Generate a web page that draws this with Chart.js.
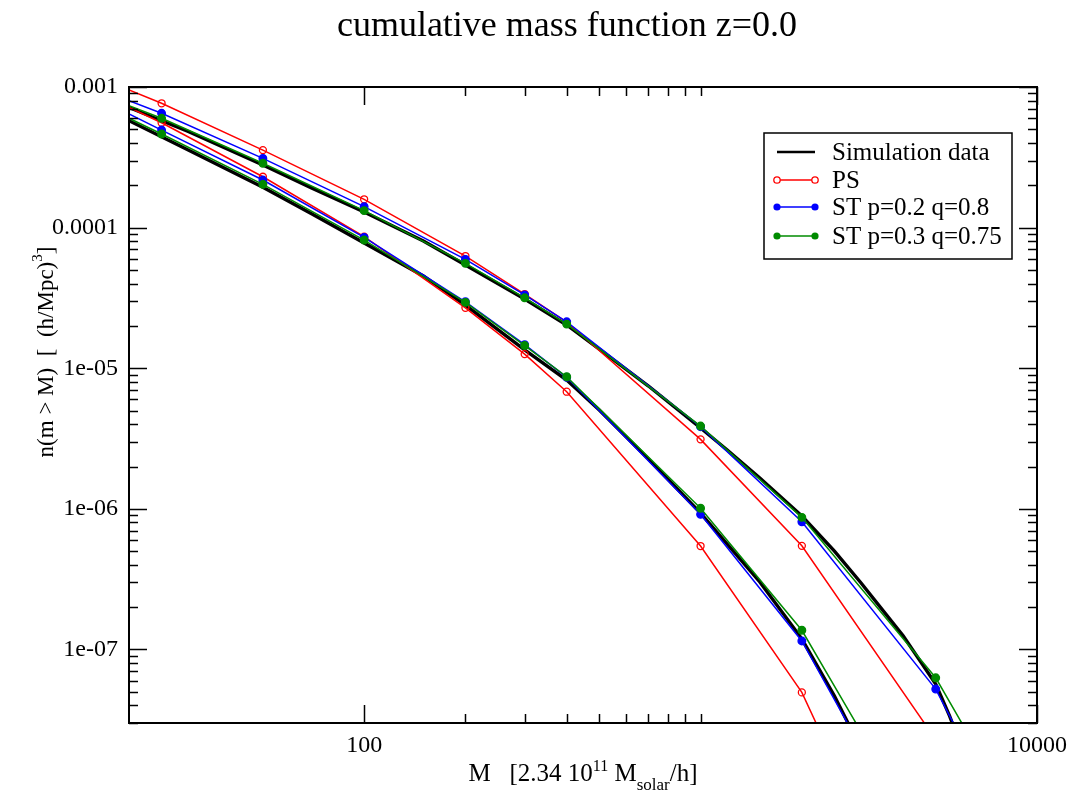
<!DOCTYPE html>
<html>
<head>
<meta charset="utf-8">
<script src="https://cdn.jsdelivr.net/npm/chart.js@4/dist/chart.umd.min.js"></script>
<style>
  html, body { margin: 0; padding: 0; background: #fff; }
</style>
</head>
<body>
<canvas id="myChart" width="1071" height="798"></canvas>
<script>
// model curves are sampled at these masses (units of 2.34e11 Msun/h)
const massPts = [20, 25, 50, 100, 200, 300, 400, 1000, 2000, 5000, 10000];
const psUpper  = [9.52e-4, 7.66e-4, 3.56e-4, 1.59e-4, 6.28e-5, 3.37e-5, 2.13e-5, 3.12e-6, 5.46e-7, 2.29e-8, 1.7e-9];
const st1Upper = [7.99e-4, 6.50e-4, 3.11e-4, 1.41e-4, 5.95e-5, 3.32e-5, 2.14e-5, 3.84e-6, 8.09e-7, 5.23e-8, 2.14e-9];
const st2Upper = [7.36e-4, 5.99e-4, 2.87e-4, 1.32e-4, 5.57e-5, 3.17e-5, 2.06e-5, 3.88e-6, 8.70e-7, 6.29e-8, 3.53e-9];
const psLower  = [7.17e-4, 5.57e-4, 2.30e-4, 8.62e-5, 2.69e-5, 1.26e-5, 6.81e-6, 5.44e-7, 4.95e-8, 4.4e-10, 1e-11];
const st1Lower = [6.43e-4, 4.94e-4, 2.18e-4, 8.53e-5, 2.97e-5, 1.47e-5, 8.62e-6, 9.14e-7, 1.15e-7, 2.22e-9, 1e-10];
const st2Lower = [5.99e-4, 4.63e-4, 2.03e-4, 8.16e-5, 2.94e-5, 1.45e-5, 8.70e-6, 1.01e-6, 1.37e-7, 3.19e-9, 2e-10];

// simulation (black) curves
const simMassUpper = [20, 30, 50, 70, 100, 150, 200, 300, 400, 500, 700, 1000, 1200, 1500, 2000, 2500, 3000, 4000, 5000, 5500, 6000];
const simUpper = [7.15e-4, 4.83e-4, 2.79e-4, 1.91e-4, 1.29e-4, 8.03e-5, 5.42e-5, 3.11e-5, 2.03e-5, 1.37e-5, 7.47e-6, 3.76e-6, 2.62e-6, 1.66e-6, 8.89e-7, 5.01e-7, 2.97e-7, 1.25e-7, 5.67e-8, 3.36e-8, 1.93e-8];
const simMassLower = [20, 30, 50, 70, 100, 150, 200, 300, 400, 500, 700, 1000, 1500, 2000, 2500, 3000];
const simLower = [5.76e-4, 3.56e-4, 1.94e-4, 1.25e-4, 7.77e-5, 4.53e-5, 2.81e-5, 1.35e-5, 8.24e-6, 5.04e-6, 2.26e-6, 9.33e-7, 3.02e-7, 1.19e-7, 4.66e-8, 1.96e-8];

const seriesNames = ["Simulation data", "PS", "ST p=0.2 q=0.8", "ST p=0.3 q=0.75"];
const seriesColors = ["#000000", "#ff0000", "#0000ff", "#008b00"];

const xMajor = [100, 10000];
const xMinor = [200, 300, 400, 500, 600, 700, 800, 900, 1000];
const yMajor = [1e-3, 1e-4, 1e-5, 1e-6, 1e-7];
const yMajorLabels = ["0.001", "0.0001", "1e-05", "1e-06", "1e-07"];

const FONT = '"Liberation Serif", "Times New Roman", serif';

const yMinor = [];
[1e-8, 1e-7, 1e-6, 1e-5, 1e-4].forEach(d => {
    for (let k = 2; k <= 9; k++) {
        const v = k * d;
        if (v >= 2.99e-8 && v <= 1e-3) yMinor.push(v);
    }
});

const pts = (xs, ys) => xs.map((x, i) => ({ x: x, y: ys[i] }));
const markR = (r) => (c) => (c.raw && c.raw.x > 20 ? r : 0);

function model(data, idx, open, order) {
    return {
        data: data,
        borderColor: seriesColors[idx],
        backgroundColor: open ? "#ffffff" : seriesColors[idx],
        pointBorderColor: seriesColors[idx],
        pointBackgroundColor: open ? "rgba(0,0,0,0)" : seriesColors[idx],
        borderWidth: 1.5,
        pointBorderWidth: 1.3,
        pointRadius: markR(open ? 3.5 : 3.8),
        tension: 0,
        clip: 0,
        order: order
    };
}

function sim(data) {
    return {
        data: data,
        borderColor: "#000",
        borderWidth: 3.4,
        pointRadius: 0,
        tension: 0,
        clip: 0,
        order: 5
    };
}

function richWidth(ctx, parts) {
    let w = 0;
    parts.forEach(p => { ctx.font = p.s + "px " + FONT; w += ctx.measureText(p.t).width; });
    return w;
}
function drawRich(ctx, parts, x, y) {
    let cx = x;
    parts.forEach(p => {
        ctx.font = p.s + "px " + FONT;
        ctx.fillText(p.t, cx, y + (p.dy || 0));
        cx += ctx.measureText(p.t).width;
    });
}

const decor = {
    id: "decor",
    afterDraw(chart) {
        const { ctx, chartArea: a, scales: { x, y } } = chart;
        ctx.save();
        ctx.strokeStyle = "#000";
        ctx.lineWidth = 1.5;
        ctx.beginPath();
        xMajor.concat(xMinor).forEach(v => {
            const px = Math.round(x.getPixelForValue(v)) + 0.5;
            const len = xMajor.includes(v) ? 18 : 9;
            ctx.moveTo(px, a.bottom); ctx.lineTo(px, a.bottom - len);
            ctx.moveTo(px, a.top); ctx.lineTo(px, a.top + len);
        });
        yMajor.concat(yMinor).forEach(v => {
            const py = Math.round(y.getPixelForValue(v)) + 0.5;
            const len = yMajor.includes(v) ? 18 : 9;
            ctx.moveTo(a.left, py); ctx.lineTo(a.left + len, py);
            ctx.moveTo(a.right, py); ctx.lineTo(a.right - len, py);
        });
        ctx.stroke();
        ctx.lineWidth = 2;
        ctx.strokeRect(a.left, a.top, a.right - a.left, a.bottom - a.top);

        ctx.fillStyle = "#000";
        ctx.textBaseline = "alphabetic";
        // title
        ctx.font = "36px " + FONT;
        ctx.textAlign = "center";
        ctx.fillText("cumulative mass function z=0.0", 567, 36);

        // x axis label
        ctx.textAlign = "left";
        const xl = [
            { t: "M   [2.34 10", s: 25 },
            { t: "11", s: 16, dy: -10 },
            { t: " M", s: 25 },
            { t: "solar", s: 17, dy: 9 },
            { t: "/h]", s: 25 }
        ];
        const xw = richWidth(ctx, xl);
        drawRich(ctx, xl, 583 - xw / 2, 781);

        // y axis label
        const yl = [
            { t: "n(m > M)  [  (h/Mpc)", s: 23 },
            { t: "3", s: 15, dy: -11 },
            { t: "]", s: 23 }
        ];
        const yw = richWidth(ctx, yl);
        ctx.save();
        ctx.translate(53, 352);
        ctx.rotate(-Math.PI / 2);
        drawRich(ctx, yl, -yw / 2, 0);
        ctx.restore();

        // legend
        const bx = 764, by = 133, bw = 248, bh = 126;
        ctx.fillStyle = "#fff";
        ctx.fillRect(bx, by, bw, bh);
        ctx.lineWidth = 1.5;
        ctx.strokeRect(bx, by, bw, bh);
        const rows = [152, 180, 207, 236];
        seriesNames.forEach((name, i) => {
            const ry = rows[i];
            ctx.strokeStyle = seriesColors[i];
            ctx.lineWidth = i === 0 ? 2.5 : 1.5;
            ctx.beginPath();
            ctx.moveTo(777, ry); ctx.lineTo(815, ry);
            ctx.stroke();
            if (i > 0) {
                [777, 815].forEach(mx => {
                    ctx.beginPath();
                    ctx.arc(mx, ry, i === 1 ? 3.2 : 3.6, 0, Math.PI * 2);
                    if (i === 1) {
                        ctx.fillStyle = "#fff"; ctx.fill();
                        ctx.lineWidth = 1.3; ctx.stroke();
                    } else {
                        ctx.fillStyle = seriesColors[i]; ctx.fill();
                    }
                });
            }
            ctx.fillStyle = "#000";
            ctx.font = "25px " + FONT;
            ctx.textBaseline = "middle";
            ctx.fillText(name, 832, ry + 1);
            ctx.textBaseline = "alphabetic";
        });
        ctx.restore();
    }
};

new Chart(document.getElementById("myChart"), {
    type: "line",
    data: {
        datasets: [
            sim(pts(simMassUpper, simUpper)),
            sim(pts(simMassLower, simLower)),
            model(pts(massPts, psUpper), 1, true, 3),
            model(pts(massPts, psLower), 1, true, 3),
            model(pts(massPts, st1Upper), 2, false, 2),
            model(pts(massPts, st1Lower), 2, false, 2),
            model(pts(massPts, st2Upper), 3, false, 1),
            model(pts(massPts, st2Lower), 3, false, 1)
        ]
    },
    options: {
        responsive: false,
        animation: false,
        devicePixelRatio: 1,
        layout: { padding: { top: 87, right: 34, left: 0, bottom: 0 } },
        plugins: {
            legend: { display: false },
            title: { display: false },
            tooltip: { enabled: false }
        },
        scales: {
            x: {
                type: "logarithmic",
                min: 20,
                max: 10000,
                grid: { display: false, drawTicks: false },
                border: { display: false },
                afterBuildTicks: s => { s.ticks = xMajor.concat(xMinor).map(v => ({ value: v })); },
                afterFit: s => { s.height = 75; },
                ticks: {
                    autoSkip: false,
                    maxRotation: 0,
                    padding: 8,
                    color: "#000",
                    font: { family: FONT, size: 24 },
                    callback: v => (xMajor.includes(v) ? String(v) : "")
                }
            },
            y: {
                type: "logarithmic",
                min: 3e-8,
                max: 1e-3,
                grid: { display: false, drawTicks: false },
                border: { display: false },
                afterBuildTicks: s => { s.ticks = yMajor.concat(yMinor).map(v => ({ value: v })); },
                afterFit: s => { s.width = 129; },
                ticks: {
                    autoSkip: false,
                    padding: 11,
                    color: "#000",
                    font: { family: FONT, size: 24 },
                    callback: v => {
                        const i = yMajor.indexOf(v);
                        return i >= 0 ? yMajorLabels[i] : "";
                    }
                }
            }
        }
    },
    plugins: [decor]
});
</script>
</body>
</html>
